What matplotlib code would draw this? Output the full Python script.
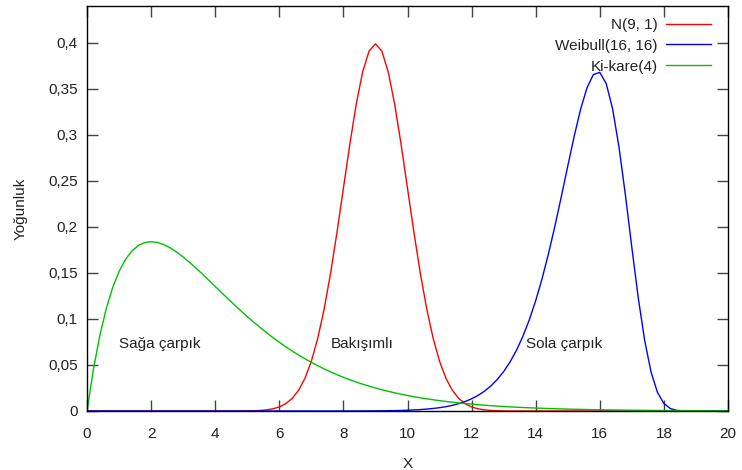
import matplotlib
matplotlib.use("Agg")
import matplotlib.pyplot as plt
from matplotlib.ticker import FuncFormatter

plt.rcParams['font.family'] = ['Liberation Sans', 'DejaVu Sans']

# ---- data ----
x_norm = [0.0, 4.8, 5.0, 5.2, 5.4, 5.6, 5.8, 6.0, 6.2, 6.4, 6.6, 6.8, 7.0, 7.2, 7.4, 7.6, 7.8,
          8.0, 8.2, 8.4, 8.6, 8.8, 9.0, 9.2, 9.4, 9.6, 9.8, 10.0, 10.2, 10.4, 10.6, 10.8,
          11.0, 11.2, 11.4, 11.6, 11.8, 12.0, 12.2, 12.4, 12.6, 12.8, 13.0, 13.2, 20.0]
y_norm = [0.0, 0.0, 0.0001, 0.0003, 0.0006, 0.0012, 0.0024, 0.0044, 0.0079, 0.0136, 0.0224,
          0.0355, 0.0540, 0.0790, 0.1109, 0.1497, 0.1942, 0.2420, 0.2897, 0.3332, 0.3683,
          0.3910, 0.3989, 0.3910, 0.3683, 0.3332, 0.2897, 0.2420, 0.1942, 0.1497, 0.1109,
          0.0790, 0.0540, 0.0355, 0.0224, 0.0136, 0.0079, 0.0044, 0.0024, 0.0012, 0.0006,
          0.0003, 0.0001, 0.0, 0.0]

x_weib = [0.0, 7.8, 8.0, 8.2, 8.4, 8.6, 8.8, 9.0, 9.2, 9.4, 9.6, 9.8, 10.0, 10.2, 10.4, 10.6,
          10.8, 11.0, 11.2, 11.4, 11.6, 11.8, 12.0, 12.2, 12.4, 12.6, 12.8, 13.0, 13.2,
          13.4, 13.6, 13.8, 14.0, 14.2, 14.4, 14.6, 14.8, 15.0, 15.2, 15.4, 15.6, 15.8,
          16.0, 16.2, 16.4, 16.6, 16.8, 17.0, 17.2, 17.4, 17.6, 17.8, 18.0, 18.2, 18.4,
          18.6, 20.0]
y_weib = [0.0, 0.0, 0.00003, 0.00005, 0.00007, 0.00009, 0.00013, 0.00018, 0.00024, 0.00032,
          0.00043, 0.00058, 0.00087, 0.00117, 0.00156, 0.00208, 0.00275, 0.00361, 0.00473,
          0.00616, 0.00799, 0.01031, 0.01323, 0.01690, 0.02149, 0.02718, 0.03421, 0.04283,
          0.05331, 0.06597, 0.08110, 0.09900, 0.11990, 0.14394, 0.17106, 0.20097, 0.23301,
          0.26603, 0.29833, 0.32764, 0.35110, 0.36554, 0.36788, 0.35574, 0.32819, 0.28649,
          0.23433, 0.17754, 0.12295, 0.07663, 0.04221, 0.02012, 0.00810, 0.00267, 0.00070,
          0.00013, 0.0]

x_chi = [0.0, 0.2, 0.4, 0.6, 0.8, 1.0, 1.2, 1.4, 1.6, 1.8, 2.0, 2.2, 2.4, 2.6, 2.8, 3.0, 3.2,
         3.4, 3.6, 3.8, 4.0, 4.2, 4.4, 4.6, 4.8, 5.0, 5.2, 5.4, 5.6, 5.8, 6.0, 6.2, 6.4,
         6.6, 6.8, 7.0, 7.2, 7.4, 7.6, 7.8, 8.0, 8.2, 8.4, 8.6, 8.8, 9.0, 9.2, 9.4, 9.6,
         9.8, 10.0, 10.2, 10.4, 10.6, 10.8, 11.0, 11.2, 11.4, 11.6, 11.8, 12.0, 12.2, 12.4,
         12.6, 12.8, 13.0, 13.2, 13.4, 13.6, 13.8, 14.0, 14.2, 14.4, 14.6, 14.8, 15.0, 15.2,
         15.4, 15.6, 15.8, 16.0, 16.2, 16.4, 16.6, 16.8, 17.0, 17.2, 17.4, 17.6, 17.8, 18.0,
         18.2, 18.4, 18.6, 18.8, 19.0, 19.2, 19.4, 19.6, 19.8, 20.0]
y_chi = [0.0, 0.04524, 0.08187, 0.11112, 0.13406, 0.15163, 0.16464, 0.17380, 0.17973,
         0.18296, 0.18394, 0.18308, 0.18072, 0.17715, 0.17262, 0.16735, 0.16152, 0.15528,
         0.14877, 0.14209, 0.13534, 0.12858, 0.12188, 0.11530, 0.10886, 0.10261, 0.09656,
         0.09073, 0.08513, 0.07978, 0.07468, 0.06983, 0.06522, 0.06086, 0.05673, 0.05284,
         0.04918, 0.04574, 0.04250, 0.03947, 0.03663, 0.03397, 0.03149, 0.02917, 0.02701,
         0.02500, 0.02312, 0.02137, 0.01975, 0.01825, 0.01684, 0.01555, 0.01434, 0.01323,
         0.01220, 0.01124, 0.01035, 0.00954, 0.00878, 0.00808, 0.00744, 0.00684, 0.00629,
         0.00578, 0.00532, 0.00489, 0.00449, 0.00412, 0.00379, 0.00348, 0.00319, 0.00293,
         0.00269, 0.00247, 0.00226, 0.00207, 0.00190, 0.00174, 0.00160, 0.00146, 0.00134,
         0.00123, 0.00113, 0.00103, 0.00095, 0.00086, 0.00079, 0.00072, 0.00066, 0.00061,
         0.00055, 0.00051, 0.00046, 0.00042, 0.00039, 0.00036, 0.00033, 0.00030, 0.00027,
         0.00025, 0.00023]

series_labels = ["N(9, 1)", "Weibull(16, 16)", "Ki-kare(4)"]
series_colors = ["#ff0000", "#0000ff", "#00c000"]

x_ticks = [0, 2, 4, 6, 8, 10, 12, 14, 16, 18, 20]
y_ticks = [0, 0.05, 0.1, 0.15, 0.2, 0.25, 0.3, 0.35, 0.4]

annotations = [("Sağa çarpık", 1.0), ("Bakışımlı", 7.6), ("Sola çarpık", 13.7)]
annot_y = 0.073

FS = 11

# ---- figure ----
fig = plt.figure(figsize=(7.42, 4.70), dpi=100)
ax = fig.add_axes([87 / 742, 59 / 470, (728 - 87) / 742, (411 - 6) / 470])

data = [(x_norm, y_norm), (x_weib, y_weib), (x_chi, y_chi)]
for (xs, ys), lab, col in zip(data, series_labels, series_colors):
    ax.plot(xs, ys, color=col, lw=1.0, label=lab)

ax.set_xlim(0, 20)
ax.set_ylim(0, 0.44)
ax.set_xticks(x_ticks)
ax.set_yticks(y_ticks)

def comma_fmt(v, pos):
    s = ("%.2f" % v).rstrip("0").rstrip(".")
    return s.replace(".", ",")

ax.xaxis.set_major_formatter(FuncFormatter(comma_fmt))
ax.yaxis.set_major_formatter(FuncFormatter(comma_fmt))

ax.tick_params(direction="in", length=8, width=1, color="#444444",
               top=True, right=True, labelsize=FS, labelcolor="#222222")
ax.tick_params(axis="x", pad=11.5)
ax.tick_params(axis="y", pad=6.6)
for sp in ax.spines.values():
    sp.set_linewidth(1.0)
    sp.set_color("black")

ax.set_xlabel("X", fontsize=FS, color="#222222", labelpad=11.5)
ax.set_ylabel("Yoğunluk", fontsize=FS, color="#222222", labelpad=15)

for txt, xpos in annotations:
    ax.text(xpos, annot_y, txt, ha="left", va="center", fontsize=FS, color="#222222")

# legend (gnuplot style: text right-aligned, sample on the right)
handles, labels = ax.get_legend_handles_labels()
leg = ax.legend(handles, labels, loc="upper right", frameon=False, markerfirst=False,
                fontsize=FS, handlelength=2.95, handletextpad=0.55, labelspacing=0.45,
                borderaxespad=0.3, bbox_to_anchor=(0.99, 0.997))
for t in leg.get_texts():
    t.set_color("#222222")

fig.savefig("out.png", dpi=100)
